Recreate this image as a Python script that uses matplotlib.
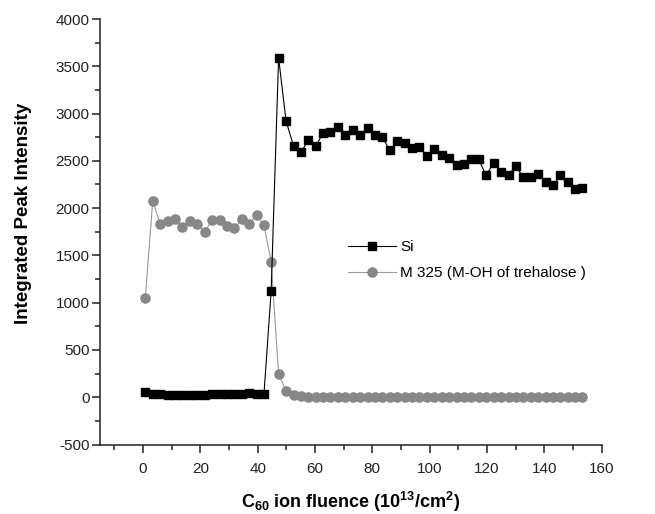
import matplotlib
matplotlib.use("Agg")
import matplotlib.pyplot as plt
from matplotlib.ticker import MultipleLocator

plt.rcParams['font.family'] = ['Liberation Sans', 'DejaVu Sans']
plt.rcParams['mathtext.fontset'] = 'custom'
plt.rcParams['mathtext.rm'] = 'Liberation Sans'
plt.rcParams['mathtext.bf'] = 'Liberation Sans:bold'
plt.rcParams['mathtext.default'] = 'bf'
plt.rcParams['axes.unicode_minus'] = False

fluence = [0.8, 3.4, 6.0, 8.6, 11.1, 13.7, 16.3, 18.9, 21.5, 24.1,
           26.7, 29.2, 31.8, 34.4, 37.0, 39.6, 42.2, 44.7, 47.3, 49.9,
           52.5, 55.1, 57.7, 60.3, 62.8, 65.4, 68.0, 70.6, 73.2, 75.8,
           78.4, 80.9, 83.5, 86.1, 88.7, 91.3, 93.9, 96.4, 99.0, 101.6,
           104.2, 106.8, 109.4, 112.0, 114.5, 117.1, 119.7, 122.3, 124.9, 127.5,
           130.1, 132.6, 135.2, 137.8, 140.4, 143.0, 145.6, 148.1, 150.7, 153.3]

si = [50, 35, 30, 25, 20, 20, 22, 25, 28, 30,
      32, 35, 38, 30, 40, 35, 38, 1120, 3590, 2920,
      2660, 2590, 2720, 2660, 2790, 2810, 2860, 2775, 2825, 2775,
      2845, 2775, 2750, 2610, 2705, 2685, 2635, 2645, 2555, 2620,
      2560, 2525, 2455, 2465, 2520, 2515, 2345, 2480, 2380, 2350,
      2445, 2325, 2325, 2360, 2280, 2240, 2345, 2275, 2200, 2210]

m325 = [1050, 2080, 1830, 1865, 1880, 1805, 1865, 1830, 1745, 1875,
        1875, 1815, 1785, 1880, 1830, 1930, 1820, 1435, 245, 70,
        25, 12, 6, 5, 5, 5, 5, 5, 5, 5,
        5, 5, 5, 5, 5, 5, 5, 5, 5, 5,
        5, 5, 5, 5, 5, 5, 5, 5, 5, 5,
        5, 5, 5, 5, 5, 5, 5, 5, 5, 5]

label_si = "Si"
label_m = "M 325 (M-OH of trehalose )"

fig = plt.figure(figsize=(6.55, 5.14), dpi=100)
W, H = 655, 514
ax = fig.add_axes([100 / W, 1 - 444.5 / H, 501.7 / W, 425.5 / H])

ax.plot(fluence, si, color='black', lw=0.8, marker='s', ms=6.4,
        mfc='black', mec='black', label=label_si, zorder=3)
ax.plot(fluence, m325, color='#9a9a9a', lw=0.8, marker='o', ms=6.6,
        mfc='#878787', mec='#878787', label=label_m, zorder=2)

ax.set_xlim(-15, 160)
ax.set_ylim(-500, 4000)
ax.xaxis.set_major_locator(MultipleLocator(20))
ax.xaxis.set_minor_locator(MultipleLocator(10))
ax.yaxis.set_major_locator(MultipleLocator(500))
ax.yaxis.set_minor_locator(MultipleLocator(250))

for s in ['top', 'right']:
    ax.spines[s].set_visible(False)
for s in ['left', 'bottom']:
    ax.spines[s].set_linewidth(1.1)
    ax.spines[s].set_color('#222222')

ax.tick_params(which='major', direction='out', length=5.5, width=1.1,
               labelsize=11, color='#222222', labelcolor='#222222')
ax.tick_params(which='minor', direction='out', length=3.5, width=1.1,
               color='#222222')
ax.tick_params(axis='x', which='major', pad=7)
ax.tick_params(axis='y', which='major', pad=2)

ax.set_ylabel("Integrated Peak Intensity", fontsize=13.5, fontweight='bold')
ax.set_xlabel(r"C$_{60}$ ion fluence (10$^{13}$/cm$^{2}$)", fontsize=13,
              fontweight='bold')
ax.yaxis.set_label_coords(32 / W, 1 - 213 / H, transform=fig.transFigure)
ax.xaxis.set_label_coords(351 / W, 1 - 490 / H, transform=fig.transFigure)

leg = ax.legend(loc='upper left', bbox_to_anchor=(348 / W, 1 - 240 / H),
                bbox_transform=fig.transFigure, frameon=False, fontsize=11,
                handlelength=3.15, handletextpad=0.28, labelspacing=0.8,
                borderpad=0, borderaxespad=0)

fig.savefig("out.png", dpi=100)
